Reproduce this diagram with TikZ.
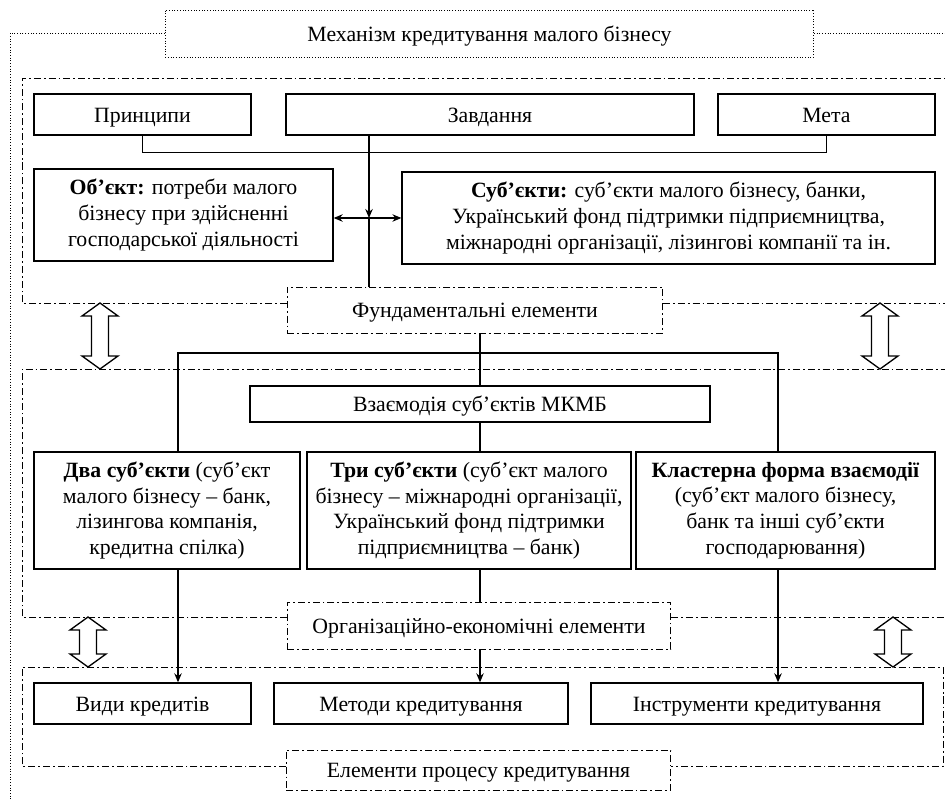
\documentclass[tikz,border=0pt]{standalone}
\usepackage{fontspec}
\setmainfont{Liberation Serif}
\usetikzlibrary{arrows.meta}

% open two-way block arrow: centre x, top y, bottom y
\newcommand{\twoway}[3]{%
  \draw[line width=0.75pt, fill=white] (#1,#2) -- ({#1+18},{#2+13}) -- ({#1+8.5},{#2+13})
    -- ({#1+8.5},{#3-13}) -- ({#1+18},{#3-13}) -- (#1,#3) -- ({#1-18},{#3-13})
    -- ({#1-8.5},{#3-13}) -- ({#1-8.5},{#2+13}) -- ({#1-18},{#2+13}) -- cycle;}

\begin{document}
\begin{tikzpicture}[
    x=0.02cm, y=-0.02cm,
    font=\fontsize{12.4}{14.6}\selectfont,
    box/.style={rectangle, draw, line width=0.8pt, inner sep=0pt, align=center},
    one/.style={text height=1em, text depth=0.12em},
    label/.style={rectangle, draw, line width=0.55pt, inner sep=0pt, align=center,
        dash pattern=on 4pt off 1.7pt on 1pt off 1.7pt},
    frame/.style={line width=0.55pt, dash pattern=on 4pt off 1.7pt on 1pt off 1.7pt},
    outer/.style={line width=0.55pt, densely dotted},
    arrow/.style={-{Stealth[length=1.8mm, width=1.5mm]}, line width=0.6pt},
    line/.style={line width=0.6pt}
]
\useasboundingbox (0,0) rectangle (945,803);

% Frames
\draw[outer] (165,33) -- (10,33) -- (10,800);
\draw[outer] (814,33) -- (950,33);
\draw[frame] (287,303) -- (22,303) -- (22,78) -- (950,78);
\draw[frame] (663,303) -- (950,303);
\draw[frame] (287,617) -- (22,617) -- (22,369) -- (950,369);
\draw[frame] (671,617) -- (950,617);
\draw[frame] (286,766) -- (22,766) -- (22,667) -- (943,667) -- (943,766) -- (671,766);

% Nodes
\node[box, one, outer, minimum width=12.98cm, minimum height=0.94cm] (mech) at (489.5,33.5)
    {Механізм кредитування малого бізнесу};

\node[box, one, minimum width=4.34cm, minimum height=0.82cm] (pryn) at (142.5,114.5) {Принципи};
\node[box, one, minimum width=8.16cm, minimum height=0.82cm] (zavd) at (490,114.5) {Завдання};
\node[box, one, minimum width=4.34cm, minimum height=0.82cm] (meta) at (826.5,114.5) {Мета};
\node[box, minimum width=5.98cm, minimum height=1.84cm] (obj) at (183.5,215)
    {\textbf{Об’єкт:} потреби малого\\бізнесу при здійсненні\\господарської діяльності};
\node[box, minimum width=10.66cm, minimum height=1.84cm] (subj) at (668.5,218)
    {\textbf{Суб’єкти:} суб’єкти малого бізнесу, банки,\\Український фонд підтримки підприємництва,\\міжнародні організації, лізингові компанії та ін.};
\node[label, one, minimum width=7.52cm, minimum height=0.92cm] (fund) at (475,310) {Фундаментальні елементи};

\node[box, one, minimum width=9.2cm, minimum height=0.72cm] (vzaem) at (480,404) {Взаємодія суб’єктів МКМБ};
\node[box, minimum width=5.32cm, minimum height=2.34cm] (dva) at (167,510.5)
    {\textbf{Два суб’єкти} (суб’єкт\\малого бізнесу – банк,\\лізингова компанія,\\кредитна спілка)};
\node[box, minimum width=6.48cm, minimum height=2.34cm] (try) at (469,510.5)
    {\textbf{Три суб’єкти} (суб’єкт малого\\бізнесу – міжнародні організації,\\Український фонд підтримки\\підприємництва – банк)};
\node[box, minimum width=5.98cm, minimum height=2.34cm] (klast) at (785.5,510.5)
    {\textbf{Кластерна форма взаємодії}\\(суб’єкт малого бізнесу,\\банк та інші суб’єкти\\господарювання)};
\node[label, one, minimum width=7.68cm, minimum height=0.94cm] (org) at (479,625.5) {Організаційно-економічні елементи};

\node[box, one, minimum width=4.34cm, minimum height=0.82cm] (vydy) at (142.5,703.5) {Види кредитів};
\node[box, one, minimum width=5.88cm, minimum height=0.82cm] (metody) at (421,703.5) {Методи кредитування};
\node[box, one, minimum width=6.64cm, minimum height=0.82cm] (instr) at (757,703.5) {Інструменти кредитування};
\node[label, one, minimum width=7.7cm, minimum height=0.8cm] (proc) at (478.5,770) {Елементи процесу кредитування};

\coordinate (cross) at (369,218);
\coordinate (bl) at (178,353);
\coordinate (bm) at (480,353);
\coordinate (br) at (778,353);

% Arrows
\draw[line] (pryn.south) -- ++(0,17) -| (meta.south);
\draw[arrow] (cross |- zavd.south) -- (cross);
\draw[line] (cross) -- (cross |- fund.north);
\draw[{Stealth[length=1.8mm, width=1.5mm]}-{Stealth[length=1.8mm, width=1.5mm]}, line width=0.6pt]
    (cross -| obj.east) -- (cross -| subj.west);
\draw[line] (bm |- fund.south) -- (vzaem.north);
\draw[line] (bl |- dva.north) -- (bl) -- (br) -- (br |- klast.north);
\draw[line] (vzaem.south) -- (vzaem.south |- try.north);
\draw[arrow] (bl |- dva.south) -- (bl |- vydy.north);
\draw[line] (bm |- try.south) -- (bm |- org.north);
\draw[arrow] (bm |- org.south) -- (bm |- metody.north);
\draw[arrow] (br |- klast.south) -- (br |- instr.north);

% Two-way arrows
\twoway{100}{303}{369}
\twoway{880}{303}{369}
\twoway{88}{617}{667}
\twoway{893}{617}{667}

\end{tikzpicture}
\end{document}
